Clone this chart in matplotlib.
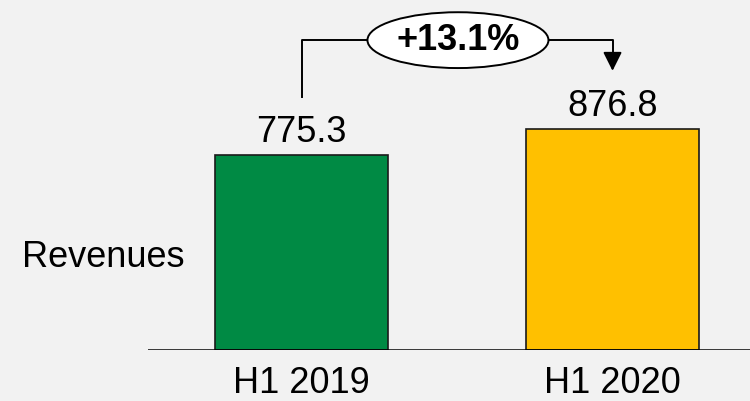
import matplotlib.pyplot as plt
from matplotlib.patches import Ellipse

categories = ['H1 2019', 'H1 2020']
revenues = [775.3, 876.8]
bar_colors = ['#008A44', '#FFC000']
row_label = 'Revenues'
change_label = '+13.1%'

plt.rcParams['font.family'] = ['Liberation Sans', 'DejaVu Sans']
bg = '#F2F2F2'
fs = 26

fig = plt.figure(figsize=(7.5, 4.01), dpi=100, facecolor=bg)
# axes from baseline (y=350px) to top, x from 148px to right edge
ax = fig.add_axes([148 / 750, 51 / 401, 602 / 750, 350 / 401])
ax.set_facecolor(bg)
ax.set_xlim(-0.4936, 1.442)
ax.set_ylim(0, 1391.6)

x = range(len(categories))
ax.bar(x, revenues, width=0.556, color=bar_colors, edgecolor='#1a1a1a', linewidth=1.2, zorder=3)

for xi, v in zip(x, revenues):
    ax.text(xi, v + 53, f'{v:.1f}', ha='center', va='baseline', fontsize=fs, color='black')

# category labels sit right at the bottom edge
for xi, c in zip(x, categories):
    ax.text(xi, -171, c, ha='center', va='baseline', fontsize=fs, color='black', clip_on=False)

for s in ax.spines.values():
    s.set_visible(False)
ax.axhline(0, color='black', linewidth=1.8, zorder=4)
ax.set_xticks([])
ax.set_yticks([])

fig.text(103 / 750, 1 - 267 / 401, row_label, ha='center', va='baseline', fontsize=fs)

# growth arrow
y_top = 1232
ax.plot([0, 0, 1, 1], [1006, y_top, y_top, 1170], color='black', linewidth=1.4, zorder=2)
ax.annotate('', xy=(1, 1110), xytext=(1, 1175),
            arrowprops=dict(arrowstyle='-|>,head_length=0.6,head_width=0.3', color='black',
                            lw=1.4, mutation_scale=19, shrinkA=0, shrinkB=0))
ax.add_patch(Ellipse((0.503, y_top), 0.582, 222, facecolor='white', edgecolor='black',
                     linewidth=1.4, zorder=5))
ax.text(0.503, y_top, change_label, ha='center', va='center', fontsize=fs,
        fontweight='bold', zorder=6)

fig.savefig('out.png', dpi=100, facecolor=bg)
